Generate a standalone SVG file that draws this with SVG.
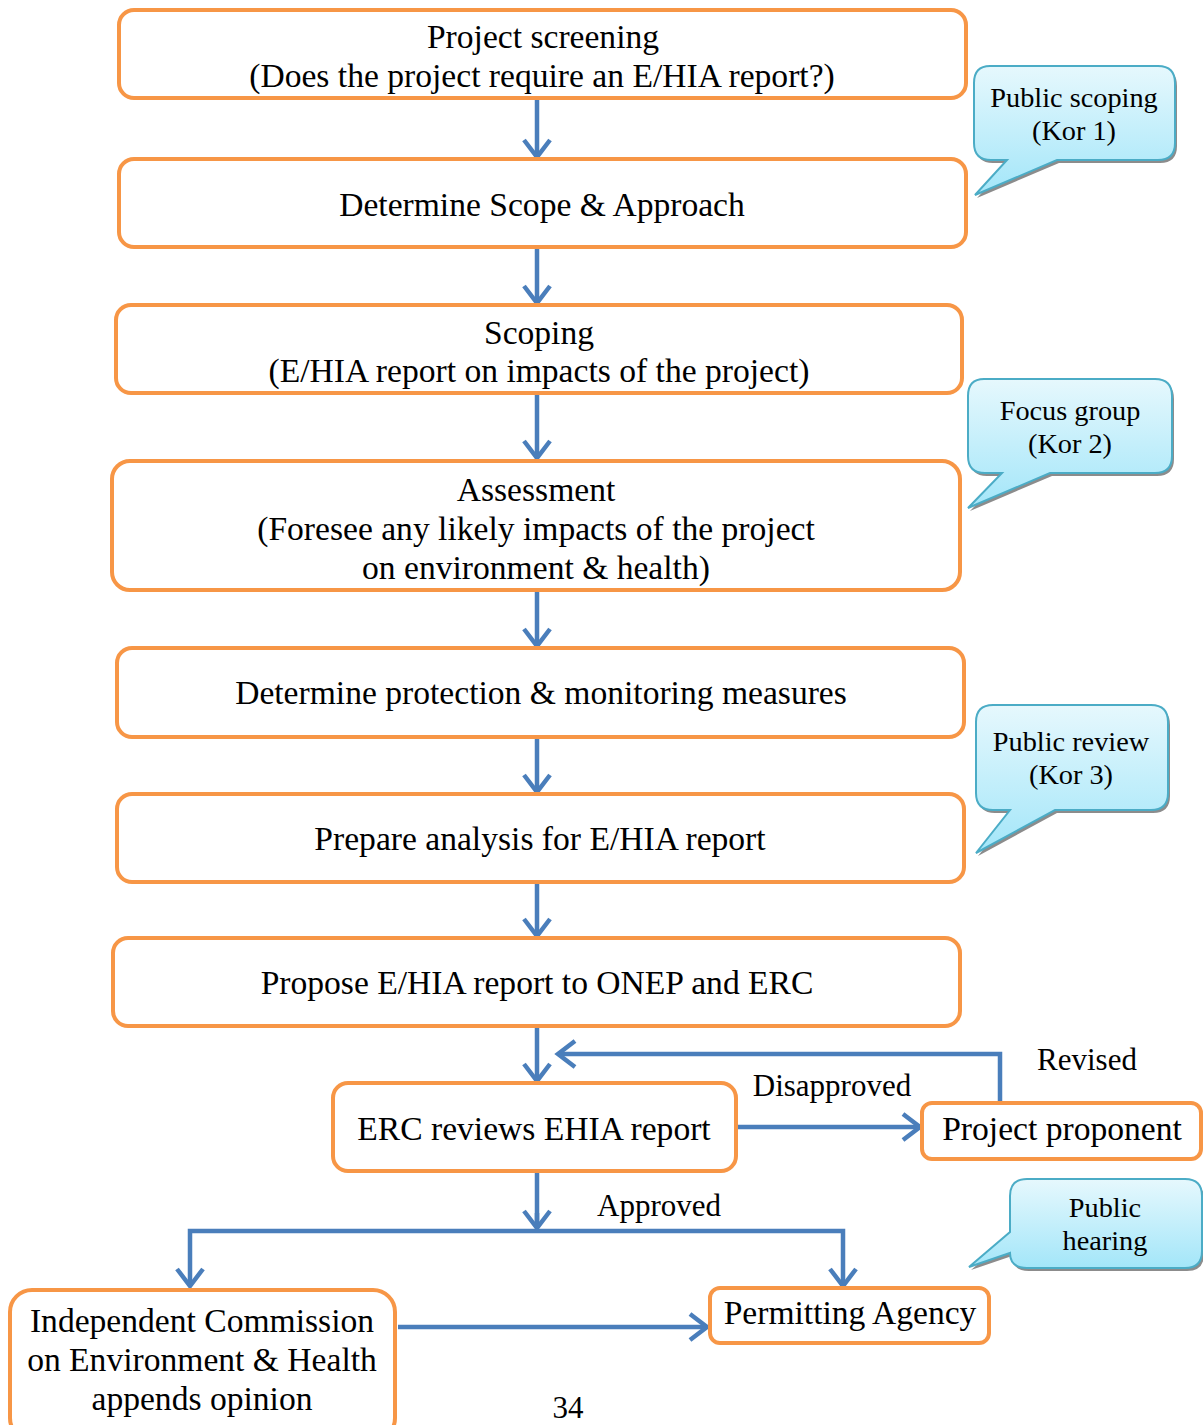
<svg xmlns="http://www.w3.org/2000/svg" width="1203" height="1425" viewBox="0 0 1203 1425">
  <style>
    .box { fill: #ffffff; stroke: #F79646; stroke-width: 4; }
    .t { font-family: "Liberation Serif", "Times New Roman", serif; font-size: 33.6px; fill: #000; text-anchor: middle; }
    .ct { font-family: "Liberation Serif", "Times New Roman", serif; font-size: 28.3px; fill: #000; text-anchor: middle; }
    .lbl { font-family: "Liberation Serif", "Times New Roman", serif; font-size: 31px; fill: #000; text-anchor: middle; }
    .conn { fill: none; stroke: #4A7EBB; stroke-width: 4.5; }
    .bubble { fill: url(#bubbleFill); stroke: #4BACC6; stroke-width: 2; }
    .shadow { fill: #8c8c8c; }
  </style>
  <defs>
    <linearGradient id="bubbleFill" x1="0" y1="0" x2="0" y2="1">
      <stop offset="0" stop-color="#E6F8FD"/>
      <stop offset="1" stop-color="#A3E6F9"/>
    </linearGradient>
    <marker id="arrow" markerUnits="userSpaceOnUse" markerWidth="30" markerHeight="30" viewBox="-20 -15 24 30" refX="0" refY="0" orient="auto">
      <path d="M-17,-13 L0,0 L-17,13" fill="none" stroke="#4A7EBB" stroke-width="4.5" stroke-linejoin="miter"/>
    </marker>
  </defs>

  <rect width="1203" height="1425" fill="#ffffff"/>

  <!-- connectors -->
  <g id="connectors">
    <path class="conn" d="M537,99 V157" marker-end="url(#arrow)"/>
    <path class="conn" d="M537,248 V303" marker-end="url(#arrow)"/>
    <path class="conn" d="M537,394 V458" marker-end="url(#arrow)"/>
    <path class="conn" d="M537,591 V646" marker-end="url(#arrow)"/>
    <path class="conn" d="M537,738 V792" marker-end="url(#arrow)"/>
    <path class="conn" d="M537,883 V936" marker-end="url(#arrow)"/>
    <path class="conn" d="M537,1027 V1081" marker-end="url(#arrow)"/>
    <path class="conn" d="M1000,1102 V1054 H558" marker-end="url(#arrow)"/>
    <path class="conn" d="M737,1127 H920" marker-end="url(#arrow)"/>
    <path class="conn" d="M537,1172 V1228"/>
    <path class="conn" d="M537,1213 V1228" marker-end="url(#arrow)"/>
    <path class="conn" d="M537,1231 H190 V1286" marker-end="url(#arrow)"/>
    <path class="conn" d="M537,1231 H843 V1286" marker-end="url(#arrow)"/>
    <path class="conn" d="M398,1327 H707" marker-end="url(#arrow)"/>
  </g>

  <!-- flow steps -->
  <g id="screening">
    <rect class="box" x="119" y="10" width="847" height="88" rx="15"/>
    <text class="t" x="543" y="48">Project screening</text>
    <text class="t" x="542" y="87">(Does the project require an E/HIA report?)</text>
  </g>
  <g id="scope">
    <rect class="box" x="119" y="159" width="847" height="88" rx="15"/>
    <text class="t" x="542" y="216">Determine Scope &amp; Approach</text>
  </g>
  <g id="scoping">
    <rect class="box" x="116" y="305" width="846" height="88" rx="15"/>
    <text class="t" x="539" y="344">Scoping</text>
    <text class="t" x="539" y="382">(E/HIA report on impacts of the project)</text>
  </g>
  <g id="assessment">
    <rect class="box" x="112" y="461" width="848" height="129" rx="18"/>
    <text class="t" x="536" y="501">Assessment</text>
    <text class="t" x="536" y="540">(Foresee any likely impacts of the project</text>
    <text class="t" x="536" y="579">on environment &amp; health)</text>
  </g>
  <g id="measures">
    <rect class="box" x="117" y="648" width="847" height="89" rx="15"/>
    <text class="t" x="541" y="704">Determine protection &amp; monitoring measures</text>
  </g>
  <g id="analysis">
    <rect class="box" x="117" y="794" width="847" height="88" rx="15"/>
    <text class="t" x="540" y="850">Prepare analysis for E/HIA report</text>
  </g>
  <g id="propose">
    <rect class="box" x="113" y="938" width="847" height="88" rx="15"/>
    <text class="t" x="537" y="994">Propose E/HIA report to ONEP and ERC</text>
  </g>
  <g id="erc-review">
    <rect class="box" x="333" y="1083" width="403" height="88" rx="15"/>
    <text class="t" x="534" y="1140">ERC reviews EHIA report</text>
  </g>
  <g id="proponent">
    <rect class="box" x="922" y="1103" width="279" height="56" rx="10"/>
    <text class="t" x="1062" y="1140">Project proponent</text>
  </g>
  <g id="commission">
    <rect class="box" x="10" y="1290" width="385" height="150" rx="22"/>
    <text class="t" x="202" y="1332">Independent Commission</text>
    <text class="t" x="202" y="1371">on Environment &amp; Health</text>
    <text class="t" x="202" y="1410">appends opinion</text>
  </g>
  <g id="permitting">
    <rect class="box" x="710" y="1288" width="279" height="55" rx="10"/>
    <text class="t" x="850" y="1324">Permitting Agency</text>
  </g>

  <!-- connector labels -->
  <g id="labels">
    <text class="lbl" x="1087" y="1070">Revised</text>
    <text class="lbl" x="832" y="1096">Disapproved</text>
    <text class="lbl" x="659" y="1216">Approved</text>
    <text class="lbl" x="568" y="1418">34</text>
  </g>

  <!-- consultation callouts -->
  <g id="callout-scoping">
    <path class="shadow" d="M990,69 H1160 Q1177,69 1177,86 V146 Q1177,163 1160,163 H1059 L977,198 L1009,163 H993 Q976,163 976,146 V86 Q976,69 990,69 Z"/>
    <path class="bubble" d="M990,66 H1158 Q1175,66 1175,83 V143 Q1175,160 1158,160 H1057 L975,195 L1007,160 H991 Q974,160 974,143 V83 Q974,66 990,66 Z"/>
    <text class="ct" x="1074" y="107">Public scoping</text>
    <text class="ct" x="1074" y="140">(Kor 1)</text>
  </g>
  <g id="callout-focus">
    <path class="shadow" d="M986,382 H1157 Q1174,382 1174,399 V459 Q1174,476 1157,476 H1052 L970,511 L1004,476 H987 Q970,476 970,459 V399 Q970,382 986,382 Z"/>
    <path class="bubble" d="M984,379 H1155 Q1172,379 1172,396 V456 Q1172,473 1155,473 H1050 L968,508 L1002,473 H985 Q968,473 968,456 V396 Q968,379 984,379 Z"/>
    <text class="ct" x="1070" y="420">Focus group</text>
    <text class="ct" x="1070" y="453">(Kor 2)</text>
  </g>
  <g id="callout-review">
    <path class="shadow" d="M995,708 H1153 Q1170,708 1170,725 V796 Q1170,813 1153,813 H1057 L978,856 L1012,813 H995 Q978,813 978,796 V725 Q978,708 995,708 Z"/>
    <path class="bubble" d="M993,705 H1151 Q1168,705 1168,722 V793 Q1168,810 1151,810 H1055 L976,853 L1010,810 H993 Q976,810 976,793 V722 Q976,705 993,705 Z"/>
    <text class="ct" x="1071" y="751">Public review</text>
    <text class="ct" x="1071" y="784">(Kor 3)</text>
  </g>
  <g id="callout-hearing">
    <path class="shadow" d="M1029,1182 H1187 Q1204,1182 1204,1199 V1254 Q1204,1271 1187,1271 H1029 Q1012,1271 1012,1256 L971,1270 L1012,1235 V1199 Q1012,1182 1029,1182 Z"/>
    <path class="bubble" d="M1027,1179 H1185 Q1202,1179 1202,1196 V1251 Q1202,1268 1185,1268 H1027 Q1010,1268 1010,1253 L969,1267 L1010,1232 V1196 Q1010,1179 1027,1179 Z"/>
    <text class="ct" x="1105" y="1217">Public</text>
    <text class="ct" x="1105" y="1250">hearing</text>
  </g>
</svg>
